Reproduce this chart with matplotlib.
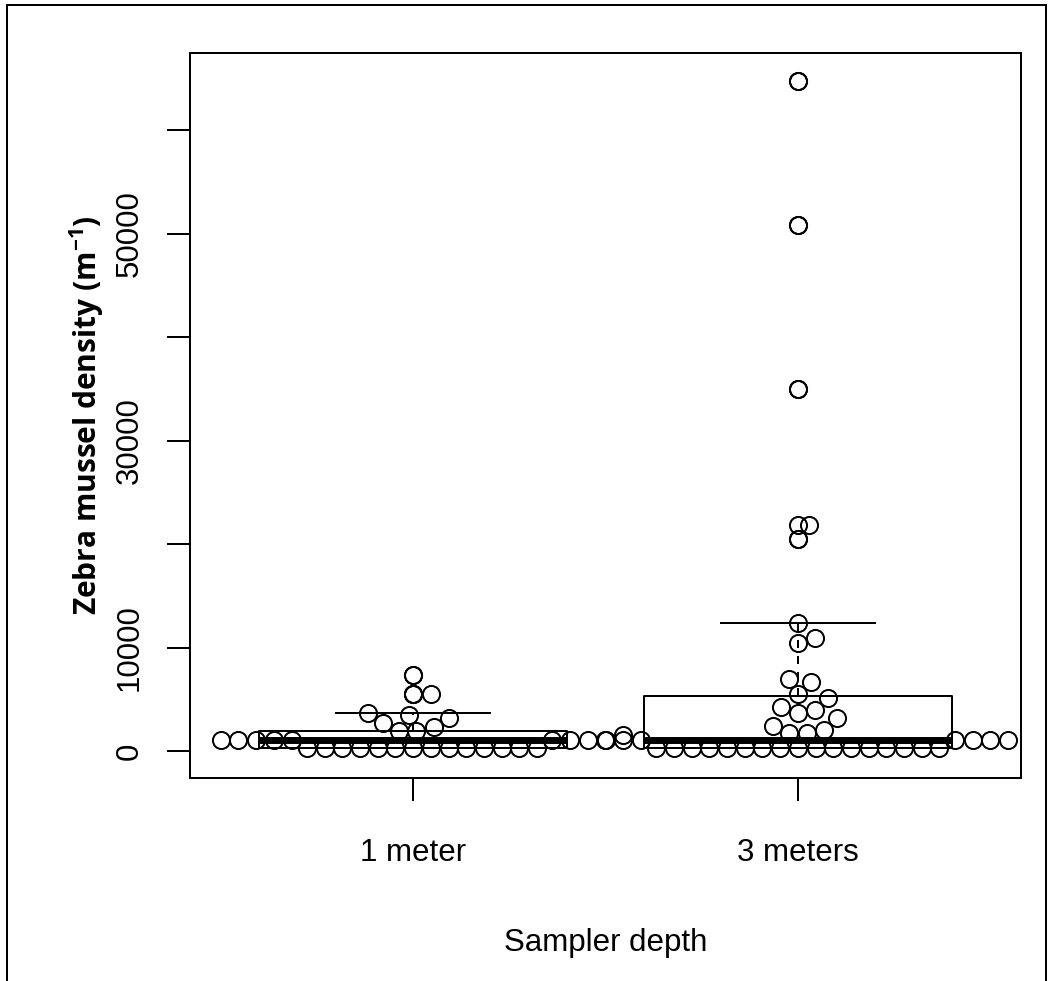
import numpy as np
import matplotlib
matplotlib.use('Agg')
import matplotlib.pyplot as plt
from matplotlib.patches import Rectangle

plt.rcParams['font.family'] = ['Liberation Sans', 'DejaVu Sans']
plt.rcParams['mathtext.fontset'] = 'custom'
plt.rcParams['mathtext.rm'] = 'Open Sans'
plt.rcParams['mathtext.bf'] = 'Open Sans:bold'

# data (mussels per m)
groups = ['1 meter', '3 meters']
one_meter = [250, 250, 250, 250, 250, 250, 250, 250, 250, 250, 250, 250, 250, 250,
             1100, 1100, 1100, 1100, 1100, 1100, 1100, 1100, 1100,
             1550, 1930, 1930, 2320, 2700, 3190, 3480, 3650, 5500, 5500, 7340]
three_meters = [250, 250, 250, 250, 250, 250, 250, 250, 250, 250, 250, 250, 250, 250,
                250, 250, 250,
                1100, 1100, 1100, 1100, 1100, 1100, 1100,
                1740, 1740, 2030, 2420, 3190, 3670, 3960, 4250, 5150, 5500,
                6670, 6960, 10400, 10900, 12400, 20500, 21800,
                35000, 50800, 64700]
yticks = [0, 10000, 20000, 30000, 40000, 50000, 60000]
ytick_labels = ['0', '10000', '', '30000', '', '50000', '']

data = [one_meter, three_meters]


def tukey_stats(vals):
    # R style fivenum hinges + 1.5 IQR whiskers
    v = np.sort(np.asarray(vals, dtype=float))
    n = len(v)
    n4 = np.floor((n + 3) / 2) / 2
    d = np.array([1, n4, (n + 1) / 2, n + 1 - n4, n]) - 1
    fn = 0.5 * (v[np.floor(d).astype(int)] + v[np.ceil(d).astype(int)])
    iqr = fn[3] - fn[1]
    inside = v[(v >= fn[1] - 1.5 * iqr) & (v <= fn[3] + 1.5 * iqr)]
    out = v[(v < fn[1] - 1.5 * iqr) | (v > fn[3] + 1.5 * iqr)]
    return dict(med=fn[2], q1=fn[1], q3=fn[3], whislo=inside.min(),
                whishi=inside.max(), fliers=out)


def swarm(ypix, d):
    # beeswarm "swarm" placement, lowest values first
    xs = np.zeros(len(ypix))
    px, py = [], []
    for i in np.argsort(ypix, kind='stable'):
        y = ypix[i]
        cands = [0.0]
        for a, b in zip(px, py):
            dy = abs(b - y)
            if dy < d:
                dx = np.sqrt(d * d - dy * dy)
                cands += [a - dx, a + dx]
        ok = [c for c in cands
              if all((c - a) ** 2 + (y - b) ** 2 >= d * d - 1e-6 for a, b in zip(px, py))]
        best = min(ok, key=lambda c: (round(abs(c), 6), -c))
        xs[i] = best
        px.append(best)
        py.append(y)
    return xs


fig = plt.figure(figsize=(10.52, 9.81), dpi=100)
ax = fig.add_axes([190 / 1052, 1 - 778 / 981, 831 / 1052, 725 / 981])
ax.set_xlim(0.42, 2.58)
ax.set_ylim(-2600, 67440)

lw = 1.44
ms = 12.3
stats = [tukey_stats(v) for v in data]
ax.bxp(stats, positions=[1, 2], widths=0.8, capwidths=0.4,
       boxprops=dict(color='black', lw=lw),
       whiskerprops=dict(color='black', lw=lw, linestyle=(0, (4, 4))),
       capprops=dict(color='black', lw=lw),
       medianprops=dict(color='black', lw=5, solid_capstyle='butt'),
       flierprops=dict(marker='o', markerfacecolor='none', markeredgecolor='black',
                       markersize=ms, markeredgewidth=lw))

# pixel scales for the swarm
x0, y0 = ax.transData.transform((0, 0))
x1, y1 = ax.transData.transform((1, 10000))
xpx = x1 - x0
ypx = (y1 - y0) / 10000
for pos, vals in zip([1, 2], data):
    v = np.asarray(vals, dtype=float)
    offs = swarm(v * ypx, 17.7)
    ax.plot(pos + offs / xpx, v, 'o', mfc='none', mec='black', ms=ms, mew=lw,
            clip_on=False)

ax.set_xticks([1, 2])
ax.set_xticklabels(groups, fontsize=22.5)
ax.set_yticks(yticks)
ax.set_yticklabels(ytick_labels, fontsize=22.5, rotation=90, va='center')
ax.tick_params(axis='both', length=16.5, width=lw, color='black')
ax.tick_params(axis='x', pad=27)
ax.tick_params(axis='y', pad=16)
for s in ax.spines.values():
    s.set_linewidth(lw)

ax.set_xlabel('Sampler depth', fontsize=22.5)
ax.xaxis.set_label_coords(0.5, (778 - 943) / 725)
ax.xaxis.label.set_va('center')
ax.set_ylabel(r'Zebra mussel density (m$^{\mathbf{-1}}$)', fontsize=21.5,
              family='Open Sans', fontweight='bold')
ax.yaxis.set_label_coords((87 - 190) / 831, 0.5)
ax.yaxis.label.set_va('center')

fig.add_artist(Rectangle((7 / 1052, -0.05), (1046 - 7) / 1052, 1.05 - 5 / 981,
                         transform=fig.transFigure, fill=False, lw=lw,
                         edgecolor='black', clip_on=False))

fig.savefig('out.png', dpi=100)
